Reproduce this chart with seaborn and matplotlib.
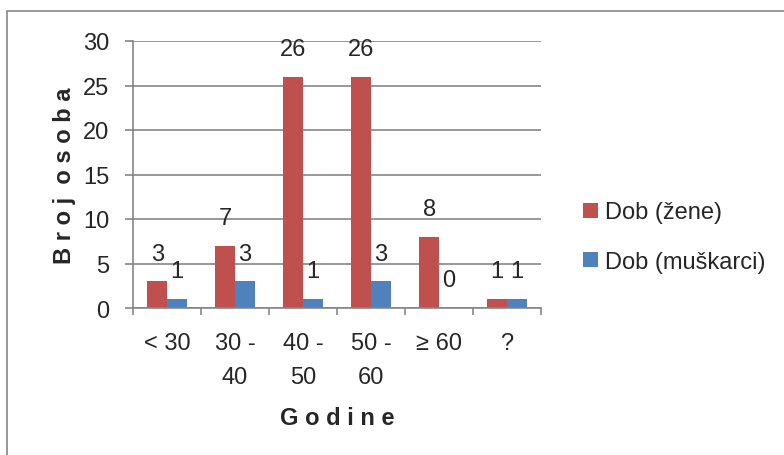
import matplotlib
matplotlib.use("Agg")
import matplotlib.pyplot as plt
import seaborn as sns
import pandas as pd
from matplotlib.patches import Rectangle
from matplotlib.ticker import FixedLocator

categories = ["< 30", "30 -\n40", "40 -\n50", "50 -\n60", "≥ 60", "?"]
series_names = ["Dob (žene)", "Dob (muškarci)"]
zene = [3, 7, 26, 26, 8, 1]
muskarci = [1, 3, 1, 3, 0, 1]
colors = ["#C0504D", "#4F81BD"]
yticks = [0, 5, 10, 15, 20, 25, 30]

sns.set_style("white")
plt.rcParams["font.family"] = ["Liberation Sans", "DejaVu Sans"]
FS = 17

df = pd.DataFrame({
    "cat": categories * 2,
    "val": zene + muskarci,
    "series": [series_names[0]] * len(categories) + [series_names[1]] * len(categories),
})

fig = plt.figure(figsize=(7.84, 4.56), dpi=100)
W, H = 784, 456
ax = fig.add_axes([133 / W, 1 - 309 / H, 408 / W, 267 / H])

sns.barplot(data=df, x="cat", y="val", hue="series", order=categories,
            hue_order=series_names, palette=colors, width=0.574,
            saturation=1, ax=ax, legend=True, edgecolor="none", linewidth=0)

ax.set_xlim(-0.5, len(categories) - 0.5)
ax.set_ylim(0, 30)
ax.set_yticks(yticks)
ax.set_yticklabels([str(t) for t in yticks], fontsize=FS)
ax.yaxis.grid(True, color="#868686", linewidth=1.2)
ax.set_axisbelow(True)
for s in ["top", "right"]:
    ax.spines[s].set_visible(False)
for s in ["left", "bottom"]:
    ax.spines[s].set_color("#868686")
    ax.spines[s].set_linewidth(1.2)
ax.tick_params(axis="y", length=6, color="#868686", width=1.2, pad=11, left=True)
ax.tick_params(axis="x", which="major", length=0, pad=17, labelsize=FS)
ax.xaxis.set_minor_locator(FixedLocator([i - 0.5 for i in range(len(categories) + 1)]))
ax.tick_params(axis="x", which="minor", length=5, color="#868686", width=1.2, bottom=True)
for lbl in ax.get_xticklabels():
    lbl.set_linespacing(1.7)

# data labels
for cont in ax.containers:
    for bar in cont:
        h = bar.get_height()
        ax.annotate(f"{int(h)}", (bar.get_x() + bar.get_width() / 2, h),
                    xytext=(0, 20), textcoords="offset points",
                    ha="center", va="center", fontsize=FS, annotation_clip=False)

ax.set_ylabel("B r o j  o s o b a", fontsize=FS, fontweight="bold")
ax.yaxis.set_label_coords(-0.140, 0.5)
ax.set_xlabel("G o d i n e", fontsize=FS, fontweight="bold")
ax.xaxis.set_label_coords(0.5, -0.367)

leg = ax.legend(loc="center left", bbox_to_anchor=(1.08, 0.266), frameon=False,
                fontsize=FS, handlelength=0.64, handleheight=0.6, handletextpad=0.3,
                labelspacing=1.15, borderaxespad=0)

fig.patches.append(Rectangle((7 / W, -0.2), 1.2, 1.2 - 12 / H, transform=fig.transFigure,
                             fill=False, edgecolor="#868686", linewidth=1.2))

fig.savefig("out.png", dpi=100)
